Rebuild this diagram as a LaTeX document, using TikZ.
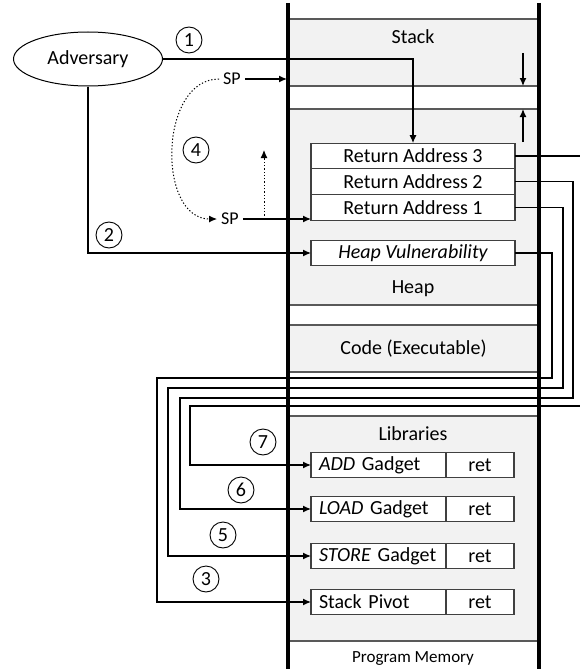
\documentclass[tikz,border=0pt]{standalone}
\usepackage{fontspec}
\setmainfont{Carlito}
\usetikzlibrary{positioning,arrows.meta,shapes.geometric}

\definecolor{memfill}{HTML}{F2F2F2}
\definecolor{rimgray}{HTML}{595959}
\definecolor{boxgray}{HTML}{404040}

\tikzset{
  wall/.style={line width=3.2pt},
  region/.style={draw=rimgray, fill=memfill, line width=1.1pt, minimum width=251pt, inner sep=0pt, outer sep=0pt},
  slot/.style={draw=boxgray, fill=white, line width=1.1pt, minimum width=204pt, minimum height=25.7pt, inner sep=0pt, outer sep=0pt},
  gadget/.style={slot, minimum width=135pt, text width=119pt, align=left, inner xsep=8pt},
  retslot/.style={slot, minimum width=68pt},
  stepnum/.style={draw, circle, minimum size=26pt, inner sep=0pt, line width=0.9pt},
  link/.style={line width=1.3pt, -{Latex[length=8pt,width=7pt]}},
  splabel/.style={font=\fontsize{18}{20}\selectfont, inner xsep=4pt, inner ysep=1pt},
}

\begin{document}
\begin{tikzpicture}[x=1pt, y=-1pt, font=\fontsize{20}{24}\selectfont]
    \useasboundingbox (0,0) rectangle (579,669);

    % memory regions
    \node[region, minimum height=67pt] (stack) at (413.5,52.5) {};
    \node[region, minimum height=196pt] (heap) at (413.5,207) {};
    \node[region, minimum height=47pt] (code) at (413.5,348.5) {Code (Executable)};
    \node[region, minimum height=225pt] (libs) at (413.5,528.5) {};
    \node (stacklbl) at (413,37) {Stack};
    \node (heaplbl) at (413,289) {Heap};
    \node (libslbl) at (413,434) {Libraries};
    \node[font=\fontsize{17}{20}\selectfont] (pmem) at (413,658) {Program Memory};

    % stack frame
    \node[slot] (ra3) at (413,156) {Return Address 3};
    \node[slot, below=0pt of ra3] (ra2) {Return Address 2};
    \node[slot, below=0pt of ra2] (ra1) {Return Address 1};
    \node[slot] (hvuln) at (413,253) {\itshape Heap Vulnerability};

    % gadgets
    \node[gadget] (addg) at (378.5,465) {\textit{ADD} Gadget};
    \node[retslot, right=0pt of addg] (addr) {ret};
    \node[gadget] (loadg) at (378.5,509) {\textit{LOAD} Gadget};
    \node[retslot, right=0pt of loadg] (loadr) {ret};
    \node[gadget] (storeg) at (378.5,556) {\textit{STORE} Gadget};
    \node[retslot, right=0pt of storeg] (storer) {ret};
    \node[gadget] (pivg) at (378.5,602) {Stack Pivot};
    \node[retslot, right=0pt of pivg] (pivr) {ret};

    % adversary and stack pointer
    \node[ellipse, draw, line width=1pt, minimum width=149pt, minimum height=54pt, inner sep=0pt] (adv) at (88,59) {Adversary};
    \node[splabel] (sptop) at (232,79) {SP};
    \node[splabel] (spbot) at (230,219) {SP};
    \coordinate (sptip) at (287,79);
    \coordinate (pivot) at (264,150);
    \coordinate (stkgrow) at (523,53);
    \coordinate (heapgrow) at (523,142);

    \draw[link] (adv.east) -| (ra3.north);
    \draw[link] (adv.south) |- (hvuln.west);
    \draw[link] (sptop.east) -- (sptip);
    \draw[link] (spbot.east) -- (spbot.east -| ra1.west);
    \draw[link, dotted, line width=1pt] (sptop.west) to[out=180, in=180, looseness=1.1] (spbot.west);
    \draw[link, dotted, line width=1pt] (pivot |- spbot.east) -- (pivot);
    \draw[link] (stkgrow) -- (stkgrow |- stack.south);
    \draw[link] (heapgrow) -- (heapgrow |- heap.north);

    % return wires
    \draw[link] (hvuln.east) -| (552,378) -- (157,378) |- (pivg.west);
    \draw[link] (ra1.east) -| (563,388) -- (168,388) |- (storeg.west);
    \draw[link] (ra2.east) -| (573,398) -- (180,398) |- (loadg.west);
    \draw[link] (ra3.east) -| (586,406) -- (190,406) |- (addg.west);

    \draw[wall] (288,3) -- (288,669);
    \draw[wall] (539,3) -- (539,669);

    % steps
    \node[stepnum] (s1) at (189,40) {1};
    \node[stepnum] (s2) at (109,235) {2};
    \node[stepnum] (s3) at (206,579) {3};
    \node[stepnum] (s4) at (196,150) {4};
    \node[stepnum] (s5) at (223,535) {5};
    \node[stepnum] (s6) at (241,490) {6};
    \node[stepnum] (s7) at (263,442) {7};
\end{tikzpicture}
\end{document}
